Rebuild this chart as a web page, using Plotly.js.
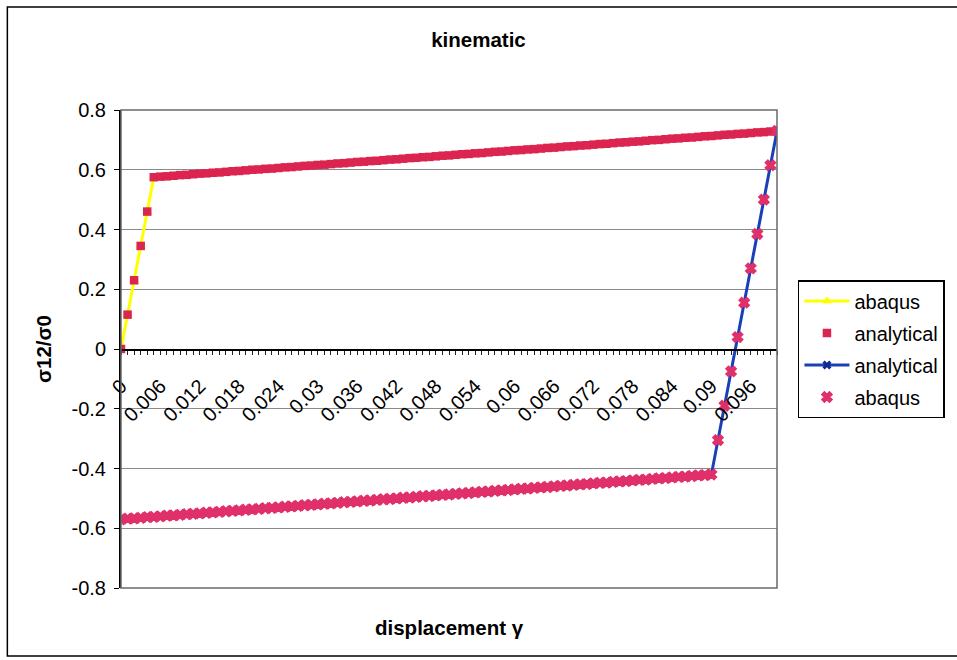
<!DOCTYPE html>
<html>
<head>
<meta charset="utf-8">
<script src="https://cdn.plot.ly/plotly-3.0.1.min.js"></script>
<style>
  html, body { margin: 0; padding: 0; background: #ffffff; }
  #chart { width: 957px; height: 660px; }
</style>
</head>
<body>
<div id="chart"></div>
<script>
// ---- data ----
// forward loading path (shear strain gamma, normalised stress)
const loadStrain = [
  0, 0.001, 0.002, 0.003, 0.004, 0.005, 0.006, 0.007, 0.008, 0.009,
  0.010, 0.011, 0.012, 0.013, 0.014, 0.015, 0.016, 0.017, 0.018, 0.019,
  0.020, 0.021, 0.022, 0.023, 0.024, 0.025, 0.026, 0.027, 0.028, 0.029,
  0.030, 0.031, 0.032, 0.033, 0.034, 0.035, 0.036, 0.037, 0.038, 0.039,
  0.040, 0.041, 0.042, 0.043, 0.044, 0.045, 0.046, 0.047, 0.048, 0.049,
  0.050, 0.051, 0.052, 0.053, 0.054, 0.055, 0.056, 0.057, 0.058, 0.059,
  0.060, 0.061, 0.062, 0.063, 0.064, 0.065, 0.066, 0.067, 0.068, 0.069,
  0.070, 0.071, 0.072, 0.073, 0.074, 0.075, 0.076, 0.077, 0.078, 0.079,
  0.080, 0.081, 0.082, 0.083, 0.084, 0.085, 0.086, 0.087, 0.088, 0.089,
  0.090, 0.091, 0.092, 0.093, 0.094, 0.095, 0.096, 0.097, 0.098, 0.099,
  0.100
];
const loadStress = [
  0, 0.115, 0.230, 0.345, 0.460, 0.575, 0.577, 0.578, 0.580, 0.582,
  0.583, 0.585, 0.587, 0.588, 0.590, 0.591, 0.593, 0.595, 0.596, 0.598,
  0.600, 0.601, 0.603, 0.604, 0.606, 0.608, 0.609, 0.611, 0.613, 0.614,
  0.616, 0.617, 0.619, 0.621, 0.622, 0.624, 0.626, 0.627, 0.629, 0.630,
  0.632, 0.634, 0.635, 0.637, 0.639, 0.640, 0.642, 0.643, 0.645, 0.647,
  0.648, 0.650, 0.652, 0.653, 0.655, 0.656, 0.658, 0.660, 0.661, 0.663,
  0.665, 0.666, 0.668, 0.669, 0.671, 0.673, 0.674, 0.676, 0.678, 0.679,
  0.681, 0.682, 0.684, 0.686, 0.687, 0.689, 0.691, 0.692, 0.694, 0.695,
  0.697, 0.699, 0.700, 0.702, 0.704, 0.705, 0.707, 0.708, 0.710, 0.712,
  0.713, 0.715, 0.717, 0.718, 0.720, 0.721, 0.723, 0.725, 0.726, 0.728,
  0.730
];
// reverse (unloading) path
const unloadStrain = [
  0.100, 0.099, 0.098, 0.097, 0.096, 0.095, 0.094, 0.093, 0.092, 0.091,
  0.090, 0.089, 0.088, 0.087, 0.086, 0.085, 0.084, 0.083, 0.082, 0.081,
  0.080, 0.079, 0.078, 0.077, 0.076, 0.075, 0.074, 0.073, 0.072, 0.071,
  0.070, 0.069, 0.068, 0.067, 0.066, 0.065, 0.064, 0.063, 0.062, 0.061,
  0.060, 0.059, 0.058, 0.057, 0.056, 0.055, 0.054, 0.053, 0.052, 0.051,
  0.050, 0.049, 0.048, 0.047, 0.046, 0.045, 0.044, 0.043, 0.042, 0.041,
  0.040, 0.039, 0.038, 0.037, 0.036, 0.035, 0.034, 0.033, 0.032, 0.031,
  0.030, 0.029, 0.028, 0.027, 0.026, 0.025, 0.024, 0.023, 0.022, 0.021,
  0.020, 0.019, 0.018, 0.017, 0.016, 0.015, 0.014, 0.013, 0.012, 0.011,
  0.010, 0.009, 0.008, 0.007, 0.006, 0.005, 0.004, 0.003, 0.002, 0.001,
  0
];
const unloadStress = [
  0.730, 0.615, 0.500, 0.385, 0.270, 0.155, 0.040, -0.075, -0.190, -0.305,
  -0.420, -0.422, -0.423, -0.425, -0.427, -0.428, -0.430, -0.432, -0.433, -0.435,
  -0.437, -0.438, -0.440, -0.442, -0.443, -0.445, -0.447, -0.448, -0.450, -0.452,
  -0.453, -0.455, -0.457, -0.458, -0.460, -0.462, -0.463, -0.465, -0.467, -0.468,
  -0.470, -0.472, -0.473, -0.475, -0.477, -0.478, -0.480, -0.482, -0.483, -0.485,
  -0.487, -0.488, -0.490, -0.492, -0.493, -0.495, -0.497, -0.498, -0.500, -0.502,
  -0.503, -0.505, -0.507, -0.508, -0.510, -0.512, -0.513, -0.515, -0.517, -0.518,
  -0.520, -0.522, -0.523, -0.525, -0.527, -0.528, -0.530, -0.532, -0.533, -0.535,
  -0.537, -0.538, -0.540, -0.542, -0.543, -0.545, -0.547, -0.548, -0.550, -0.552,
  -0.553, -0.555, -0.557, -0.558, -0.560, -0.562, -0.563, -0.565, -0.567, -0.568,
  -0.570
];
const seriesNames = ["abaqus", "analytical", "analytical", "abaqus"];
const xTickVals = [0, 0.006, 0.012, 0.018, 0.024, 0.03, 0.036, 0.042, 0.048, 0.054,
                   0.06, 0.066, 0.072, 0.078, 0.084, 0.09, 0.096];
const xTickLabels = ["0", "0.006", "0.012", "0.018", "0.024", "0.03", "0.036", "0.042", "0.048", "0.054",
                     "0.06", "0.066", "0.072", "0.078", "0.084", "0.09", "0.096"];
const yTickVals = [-0.8, -0.6, -0.4, -0.2, 0, 0.2, 0.4, 0.6, 0.8];
const yTickLabels = ["-0.8", "-0.6", "-0.4", "-0.2", "0", "0.2", "0.4", "0.6", "0.8"];

// ---- styles ----
const FONT = "Liberation Sans, Arial, sans-serif";
const RED = "#dc2450";
const PINK = "#e0306a";
const BLUE = "#1a40b8";
const YELLOW = "#ffff00";

const traces = [
  {
    x: loadStrain, y: loadStress, name: seriesNames[0], type: "scatter", mode: "lines+markers",
    legendgroup: "g1",
    line: { color: YELLOW, width: 3 },
    marker: { symbol: "triangle-up", size: 9, color: YELLOW }
  },
  {
    x: loadStrain, y: loadStress, name: seriesNames[1], type: "scatter", mode: "markers",
    legendgroup: "g2",
    marker: { symbol: "square", size: 8.5, color: RED }
  },
  {
    x: unloadStrain, y: unloadStress, name: seriesNames[2], type: "scatter", mode: "lines+markers",
    legendgroup: "g3",
    line: { color: BLUE, width: 3 },
    marker: { symbol: "x", size: 8, color: "#102a90" }
  },
  {
    x: unloadStrain, y: unloadStress, name: seriesNames[3], type: "scatter", mode: "markers",
    legendgroup: "g4",
    marker: { symbol: "x", size: 9, color: PINK, line: { color: PINK, width: 1.5 } }
  }
];

const layout = {
  width: 957, height: 660,
  paper_bgcolor: "#ffffff", plot_bgcolor: "#ffffff",
  margin: { l: 121, r: 178, t: 110, b: 72, pad: 0 },
  font: { family: FONT, size: 20, color: "#000000" },
  title: {
    text: "<b>kinematic</b>", x: 0.5, xref: "container", xanchor: "center",
    y: 1 - 40 / 660, yref: "container", yanchor: "middle",
    font: { family: FONT, size: 20.5, color: "#000000" }
  },
  showlegend: true,
  legend: {
    x: (800 - 121) / 658, xanchor: "left", y: (588 - 280) / 478, yanchor: "top",
    bgcolor: "#ffffff", bordercolor: "#000000", borderwidth: 1.5,
    font: { family: FONT, size: 20, color: "#000000" },
    tracegroupgap: 3, itemwidth: 45
  },
  xaxis: {
    range: [0, 0.1], anchor: "free", position: 0.5,
    tickmode: "array", tickvals: xTickVals, ticktext: xTickLabels,
    tickangle: -45, ticks: "outside", ticklen: 4, tickcolor: "#222222", tickwidth: 1,
    ticklabelstandoff: 12,
    minor: { tickmode: "linear", tick0: 0, dtick: 0.001, ticks: "outside", ticklen: 4, tickcolor: "#222222", tickwidth: 1, showgrid: false },
    showline: true, linecolor: "#000000", linewidth: 1.5,
    showgrid: false, zeroline: false,
    tickfont: { family: FONT, size: 20, color: "#000000" }
  },
  yaxis: {
    range: [-0.8, 0.8], domain: [0, 1],
    tickmode: "array", tickvals: yTickVals, ticktext: yTickLabels,
    ticks: "outside", ticklen: 5, tickcolor: "#000000", tickwidth: 1,
    ticklabelstandoff: 4,
    showline: true, linecolor: "#000000", linewidth: 2,
    showgrid: true, gridcolor: "#8a8a8a", gridwidth: 1, zeroline: false,
    tickfont: { family: FONT, size: 20, color: "#000000" },
    title: { text: "<b>σ12/σ0</b>", standoff: 14, font: { family: FONT, size: 20.5, color: "#000000" } }
  },
  annotations: [
    {
      text: "<b>displacement γ</b>", xref: "paper", yref: "paper",
      x: 0.5, y: (588 - 627) / 478, xanchor: "center", yanchor: "middle",
      showarrow: false, font: { family: FONT, size: 20.5, color: "#000000" }
    }
  ],
  shapes: [
    { type: "rect", xref: "paper", yref: "paper", x0: 0, x1: 1, y0: 0, y1: 1,
      line: { color: "#6a6a6a", width: 1.5 }, layer: "above" },
    { type: "rect", xref: "paper", yref: "paper",
      x0: (7 - 121) / 658, x1: (990 - 121) / 658, y0: (588 - 656) / 478, y1: (588 - 7) / 478,
      line: { color: "#000000", width: 1.5 }, layer: "above" }
  ]
};

Plotly.newPlot("chart", traces, layout, { displayModeBar: false, staticPlot: true });
</script>
</body>
</html>
